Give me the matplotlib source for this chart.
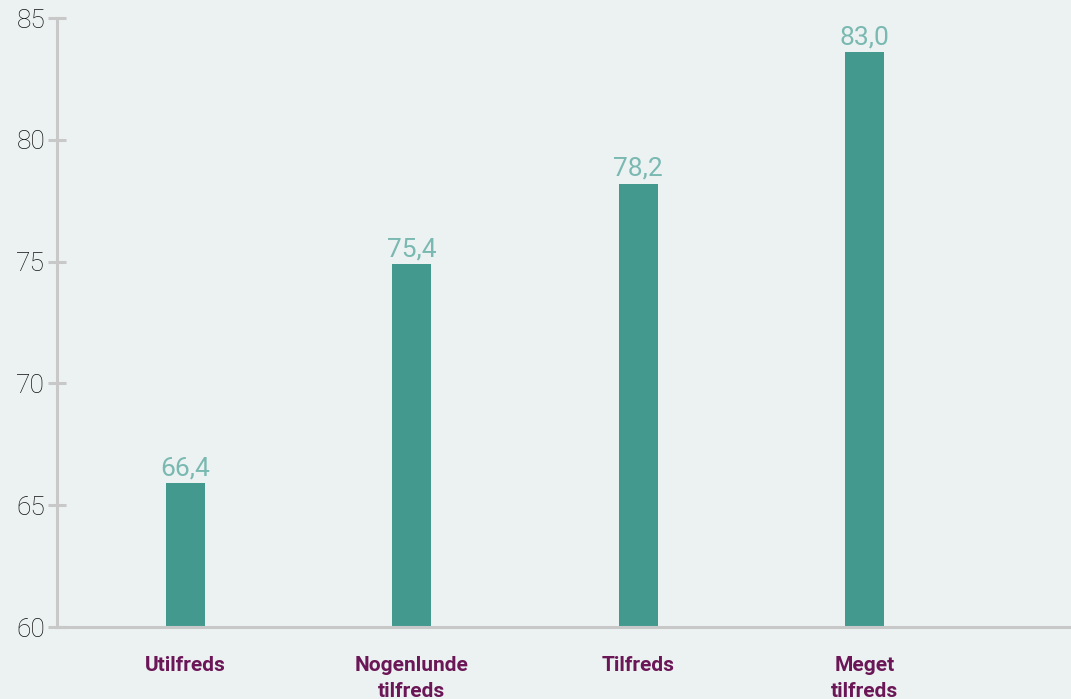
import matplotlib.pyplot as plt
import numpy as np

# data
categories = ['Utilfreds', 'Nogenlunde\ntilfreds', 'Tilfreds', 'Meget\ntilfreds']
heights = [65.9, 74.9, 78.2, 83.6]
value_labels = ['66,4', '75,4', '78,2', '83,0']
yticks = [60, 65, 70, 75, 80, 85]

bg = '#ECF2F2'
bar_color = '#44998F'
label_color = '#7AB9B1'
cat_color = '#6B1656'
axis_color = '#C8C8C8'

fig = plt.figure(figsize=(10.71, 6.99), dpi=100)
fig.patch.set_facecolor(bg)
ax = fig.add_axes([0.0532, 0.103, 0.9468, 0.871])
ax.set_facecolor(bg)

x = np.arange(len(categories))
bars = ax.bar(x, heights, width=0.172, color=bar_color, zorder=1)

for b, lab in zip(bars, value_labels):
    ax.annotate(lab, (b.get_x() + b.get_width() / 2, b.get_height()),
                xytext=(0, 2), textcoords='offset points',
                ha='center', va='bottom', color=label_color,
                fontsize=19, family='Roboto', fontweight='normal')

ax.set_ylim(60, 85)
ax.set_xlim(-0.568, 3.912)
ax.set_yticks(yticks)
ax.set_yticklabels([str(t) for t in yticks], family='Roboto', fontweight='light',
                   fontsize=19, color='#111111')
ax.tick_params(axis='y', direction='inout', length=13, width=2.2, color=axis_color, pad=2)

ax.set_xticks(x)
ax.set_xticklabels(categories, family='Roboto', fontweight='bold', fontsize=15,
                   color=cat_color, linespacing=1.45, va='top')
ax.tick_params(axis='x', length=0, pad=21)

for s in ['top', 'right']:
    ax.spines[s].set_visible(False)
for s in ['left', 'bottom']:
    ax.spines[s].set_color(axis_color)
    ax.spines[s].set_linewidth(2.2)
    ax.spines[s].set_zorder(3)

fig.savefig('out.png', dpi=100, facecolor=bg)
